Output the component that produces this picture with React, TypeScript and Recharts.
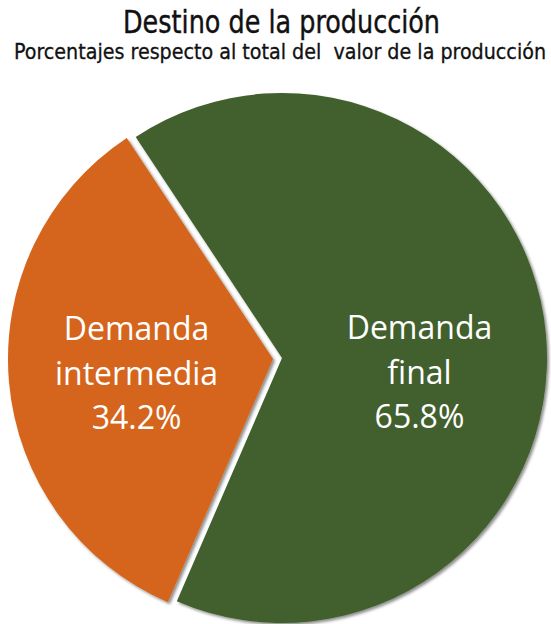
import React from 'react';
import { PieChart, Pie, Cell } from 'recharts';

const categories = ['Demanda intermedia', 'Demanda final'];
const labelLines = [['Demanda', 'intermedia'], ['Demanda', 'final']];
const values = [34.2, 65.8];
const colors = ['#D5651A', '#425F2E'];
const titleText = 'Destino de la producción';
const subtitleText = 'Porcentajes respecto al total del  valor de la producción';

const data = categories.map((name, i) => ({ name, value: values[i] }));

const RADIAN = Math.PI / 180;
const condensed = "'Liberation Sans Narrow', 'DejaVu Sans Condensed', 'Roboto Condensed', sans-serif";
const labelFont = "'Open Sans', 'Noto Sans', sans-serif";

const makeLabel = (target: number) => (props: any) => {
  const { cx, cy, midAngle, index, value } = props;
  if (index !== target) return null;
  const r = index === 0 ? 137 : 138;
  const x = cx + r * Math.cos(-midAngle * RADIAN);
  const lines = [...labelLines[index], `${value.toFixed(1)}%`];
  const lh = 44.5;
  const base = cy - 19;
  return (
    <text x={x} y={base} fill="#FFFFFF" textAnchor="middle" fontFamily={labelFont} fontSize={32}>
      {lines.map((l, i) => (
        <tspan key={i} x={x} y={base + i * lh}>{l}</tspan>
      ))}
    </text>
  );
};

export default function App() {
  return (
    <div style={{ position: 'absolute', left: 0, top: 0, width: 551, height: 624, background: '#fff' }}>
      <PieChart width={551} height={624} margin={{ top: 0, right: 0, bottom: 0, left: 0 }}>
        <defs>
          <filter id="shadow" x="-10%" y="-10%" width="120%" height="120%">
            <feDropShadow dx="2" dy="2" stdDeviation="1.5" floodColor="#000" floodOpacity="0.45" />
          </filter>
        </defs>
        <text x={281.5} y={33} textAnchor="middle" fontFamily={condensed} fontSize={32} fill="#111"
          stroke="#111" strokeWidth={0.4} textLength={317} lengthAdjust="spacingAndGlyphs">{titleText}</text>
        <text x={280} y={59} textAnchor="middle" fontFamily={condensed} fontSize={22} fill="#111"
          stroke="#111" strokeWidth={0.3} textLength={532} lengthAdjust="spacingAndGlyphs" style={{ whiteSpace: 'pre' }}>{subtitleText}</text>
        <Pie data={data} dataKey="value" nameKey="name" cx={282} cy={358} outerRadius={265}
          startAngle={123.5} endAngle={483.5} stroke="none" isAnimationActive={false}
          labelLine={false} label={makeLabel(1)} style={{ filter: 'url(#shadow)' }}>
          {data.map((d, i) => (
            <Cell key={d.name} fill={i === 1 ? colors[1] : 'transparent'} stroke="none" />
          ))}
        </Pie>
        <Pie data={data} dataKey="value" nameKey="name" cx={273} cy={359} outerRadius={265}
          startAngle={123.5} endAngle={483.5} stroke="none" isAnimationActive={false}
          labelLine={false} label={makeLabel(0)} style={{ filter: 'url(#shadow)' }}>
          {data.map((d, i) => (
            <Cell key={d.name} fill={i === 0 ? colors[0] : 'transparent'} stroke="none" />
          ))}
        </Pie>
      </PieChart>
    </div>
  );
}
